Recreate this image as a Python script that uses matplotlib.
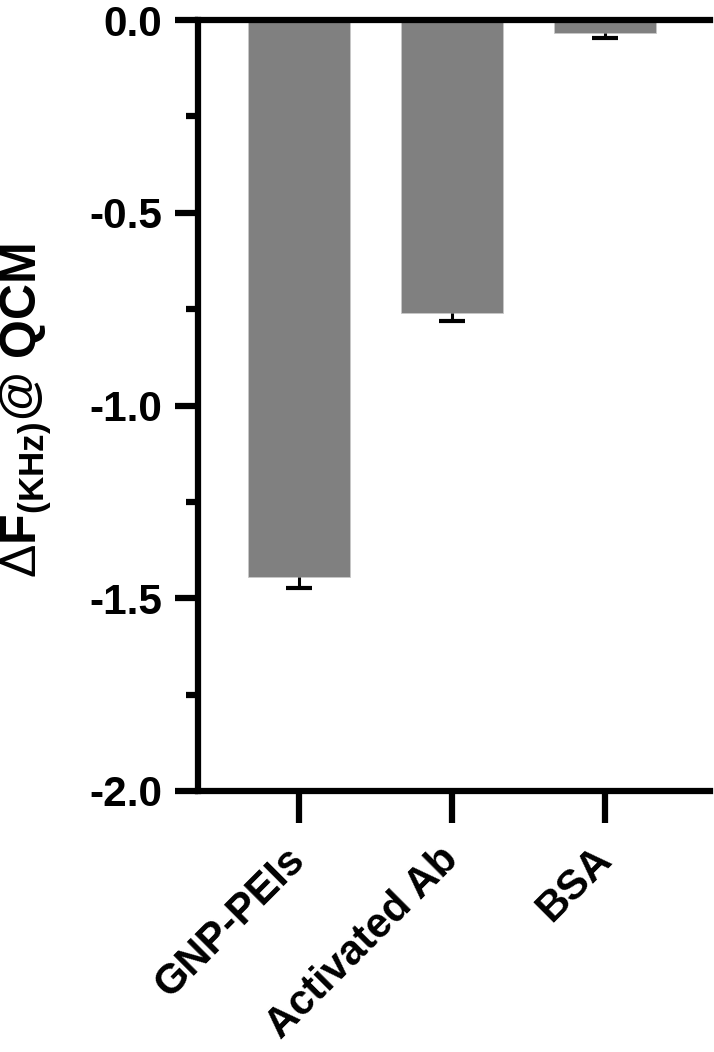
import matplotlib
matplotlib.use("Agg")
import matplotlib.pyplot as plt
from matplotlib.ticker import MultipleLocator

plt.rcParams['font.family'] = ['Liberation Sans', 'DejaVu Sans']
plt.rcParams['mathtext.fontset'] = 'custom'
plt.rcParams['mathtext.rm'] = 'Liberation Sans'
plt.rcParams['mathtext.bf'] = 'Liberation Sans:bold'
plt.rcParams['mathtext.it'] = 'Liberation Sans:italic'

categories = ['GNP-PEIs', 'Activated Ab', 'BSA']
values = [-1.445, -0.76, -0.034]
errors = [0.028, 0.021, 0.013]
y_ticks = [-2.0, -1.5, -1.0, -0.5, 0.0]

fig = plt.figure(figsize=(7.14, 10.52), dpi=100)
ax = fig.add_axes([198/714, 1-791/1052, 512/714, 771/1052])

x = list(range(len(categories)))
ax.bar(x, values, width=0.667, color='#808080', edgecolor='#c8c8c8', linewidth=0.6, zorder=2)
lower = errors
upper = [0 for _ in errors]
ax.errorbar(x, values, yerr=[lower, upper], fmt='none', ecolor='black',
            elinewidth=2.2, capsize=0, zorder=3)
cap_y = [v - e for v, e in zip(values, errors)]
ax.plot(x, cap_y, linestyle='none', marker='_', markersize=19,
        markeredgewidth=3.0, color='black', zorder=3)

ax.set_xlim(-0.66, 2.686)
ax.set_ylim(-2.0, 0.0)
ax.set_yticks(y_ticks)
ax.set_yticklabels([f'{v:.1f}' for v in y_ticks])
ax.yaxis.set_minor_locator(MultipleLocator(0.25))
ax.set_xticks(x)
ax.set_xticklabels(categories, rotation=45, ha='right', va='center',
                   rotation_mode='anchor', fontsize=30, fontweight='bold')

for s in ['left', 'bottom', 'top']:
    ax.spines[s].set_linewidth(4.5)
    ax.spines[s].set_color('black')
ax.spines['right'].set_visible(False)

ax.tick_params(axis='y', which='major', length=16.5, width=4.5, pad=9,
               labelsize=30.5, direction='out')
ax.tick_params(axis='y', which='minor', length=8.6, width=4.5, direction='out')
ax.tick_params(axis='x', which='major', length=23, width=4.5, pad=22, direction='out')
for lab in ax.get_yticklabels():
    lab.set_fontweight('bold')

fig.text(26/714, 1-410/1052,
         r'$\Delta\mathbf{F}_{\mathbf{(KHz)}}\mathbf{@\ QCM}$',
         rotation=90, ha='center', va='center', fontsize=36)

fig.savefig('out.png', dpi=100)
